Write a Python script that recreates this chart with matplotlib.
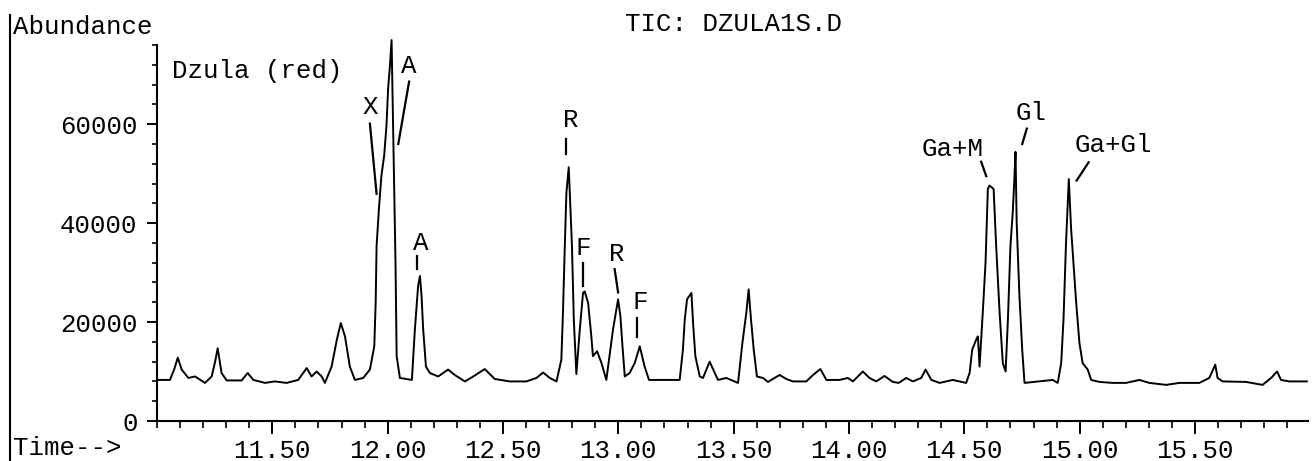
import matplotlib
matplotlib.use("Agg")
import matplotlib.pyplot as plt
from matplotlib.ticker import MultipleLocator, FixedLocator
from matplotlib.lines import Line2D

# ---- data ----
retention_time = [
    11.000, 11.056, 11.075, 11.090, 11.107, 11.136, 11.165, 11.208, 11.237, 11.252,
    11.263, 11.280, 11.302, 11.367, 11.393, 11.418, 11.468, 11.511, 11.562, 11.612,
    11.649, 11.670, 11.692, 11.714, 11.728, 11.757, 11.780, 11.797, 11.815, 11.836,
    11.858, 11.894, 11.923, 11.942, 11.948, 11.952, 11.962, 11.973, 11.985, 11.995,
    12.002, 12.010, 12.017, 12.020, 12.026, 12.034, 12.039, 12.053, 12.105, 12.118,
    12.132, 12.140, 12.147, 12.154, 12.166, 12.183, 12.219, 12.262, 12.291, 12.335,
    12.371, 12.421, 12.464, 12.529, 12.602, 12.645, 12.674, 12.703, 12.732, 12.753,
    12.760, 12.768, 12.775, 12.785, 12.792, 12.799, 12.807, 12.818, 12.833, 12.847,
    12.854, 12.869, 12.883, 12.890, 12.908, 12.927, 12.948, 12.977, 12.999, 13.009,
    13.018, 13.028, 13.049, 13.071, 13.093, 13.114, 13.133, 13.266, 13.280, 13.288,
    13.298, 13.317, 13.324, 13.334, 13.353, 13.367, 13.396, 13.418, 13.432, 13.468,
    13.519, 13.538, 13.555, 13.565, 13.574, 13.587, 13.601, 13.627, 13.649, 13.699,
    13.728, 13.757, 13.815, 13.844, 13.876, 13.902, 13.959, 13.995, 14.017, 14.060,
    14.089, 14.118, 14.154, 14.190, 14.216, 14.248, 14.277, 14.313, 14.332, 14.357,
    14.393, 14.450, 14.508, 14.523, 14.534, 14.552, 14.559, 14.566, 14.580, 14.592,
    14.602, 14.609, 14.627, 14.638, 14.653, 14.667, 14.679, 14.689, 14.700, 14.710,
    14.717, 14.722, 14.727, 14.739, 14.751, 14.761, 14.883, 14.905, 14.920, 14.930,
    14.941, 14.948, 14.953, 14.963, 14.973, 14.985, 14.999, 15.013, 15.035, 15.050,
    15.086, 15.143, 15.201, 15.259, 15.302, 15.375, 15.432, 15.519, 15.562, 15.588,
    15.598, 15.620, 15.721, 15.793, 15.830, 15.856, 15.873, 15.909, 15.985,
]
abundance = [
    8300, 8300, 10500, 12800, 10400, 8700, 9000, 7700, 9000, 12000,
    14700, 9700, 8200, 8200, 9700, 8300, 7700, 8000, 7700, 8300,
    10700, 9000, 10000, 9000, 7700, 11000, 16500, 19800, 17100, 11000,
    8300, 8700, 10400, 15100, 23900, 35400, 42800, 49600, 53700, 59800,
    67200, 71900, 77000, 69200, 54400, 32000, 13100, 8700, 8300, 18500,
    27300, 29300, 25200, 18500, 11000, 9700, 9000, 10400, 9300, 8000,
    9000, 10500, 8500, 8000, 8000, 8700, 9800, 8700, 8000, 12400,
    21900, 35400, 46200, 51300, 43500, 35400, 20500, 9500, 18500, 25900,
    26200, 23900, 17100, 13100, 14100, 11700, 8300, 18500, 24600, 21200,
    15100, 9000, 9700, 11700, 15100, 11000, 8300, 8300, 14400, 20500,
    24600, 25900, 19800, 13100, 9000, 8700, 12000, 9700, 8300, 8700,
    7700, 15800, 21900, 26600, 21200, 14400, 9000, 8700, 7900, 9300,
    8500, 8000, 8000, 9300, 10500, 8300, 8300, 8700, 8000, 10000,
    8700, 8000, 9100, 7900, 7700, 8700, 8000, 8700, 10400, 8300,
    7700, 8300, 7700, 9700, 14400, 16500, 17100, 11000, 21900, 32000,
    46900, 47600, 46900, 35400, 21900, 11700, 10000, 20500, 35400, 42200,
    48900, 54400, 40100, 25200, 14400, 7700, 8300, 7700, 11700, 20500,
    36100, 43500, 48900, 38800, 32000, 23900, 15800, 11700, 10400, 8300,
    7900, 7700, 7700, 8300, 7700, 7300, 7700, 7700, 8700, 11400,
    8700, 8000, 7900, 7300, 8700, 10000, 8300, 8000, 8000,
]
peak_labels = ["X", "A", "A", "R", "F", "R", "F", "Ga+M", "Gl", "Ga+Gl"]
y_ticks = [0, 20000, 40000, 60000]
x_tick_labels = ["11.50", "12.00", "12.50", "13.00", "13.50", "14.00", "14.50", "15.00", "15.50"]

# ---- annotation placement (label position, leader line start/end) ----
label_pos = [(11.923, 63400), (12.090, 71800), (12.142, 35900), (12.792, 60800),
             (12.848, 35000), (12.992, 33700), (13.093, 24100), (14.450, 55000),
             (14.790, 62200), (15.146, 55700)]
leader = [((11.923, 60100), (11.952, 45900)), ((12.093, 68600), (12.046, 56000)),
          ((12.128, 33400), (12.128, 30700)), ((12.775, 57100), (12.775, 54000)),
          ((12.847, 32000), (12.847, 27200)), ((12.984, 30700), (12.999, 26000)),
          ((13.081, 20900), (13.081, 16900)), ((14.573, 52400), (14.595, 49500)),
          ((14.771, 59100), (14.751, 56000)), ((15.039, 52300), (14.987, 48600))]

FONT = "Liberation Mono"
FS = 18.5
W, H = 1314, 461

fig = plt.figure(figsize=(W / 100, H / 100), dpi=100)
ax = fig.add_axes([157 / W, 1 - 421 / H, (1308 - 157) / W, (421 - 45) / H])

ax.plot(retention_time, abundance, color="black", lw=1.4, clip_on=False)

for lab, (lx, ly), ((x0, y0), (x1, y1)) in zip(peak_labels, label_pos, leader):
    ax.text(lx, ly, lab, ha="center", va="center", fontsize=FS, family=FONT)
    ax.plot([x0, x1], [y0, y1], color="black", lw=1.6)

ax.text(11.065, 70700, "Dzula (red)", ha="left", va="center", fontsize=FS, family=FONT)

ax.set_xlim(11.0, 15.99)
ax.set_ylim(0, 76000)
for s in ("top", "right"):
    ax.spines[s].set_visible(False)
for s in ("left", "bottom"):
    ax.spines[s].set_linewidth(1.5)

ax.xaxis.set_major_locator(FixedLocator([float(t) for t in x_tick_labels]))
ax.set_xticklabels(x_tick_labels)
ax.xaxis.set_minor_locator(MultipleLocator(0.1))
ax.set_yticks(y_ticks)
ax.set_yticklabels([str(v) for v in y_ticks])
ax.yaxis.set_minor_locator(MultipleLocator(4000))

ax.tick_params(axis="x", which="major", length=9, width=1.4, pad=4)
ax.tick_params(axis="x", which="minor", length=5, width=1.2)
ax.tick_params(axis="y", which="major", length=7, width=1.4, pad=7)
ax.tick_params(axis="y", which="minor", length=3.5, width=1.2)
for lbl in ax.get_xticklabels() + ax.get_yticklabels():
    lbl.set_fontfamily(FONT)
    lbl.set_fontsize(FS)

fig.text(13 / W, 1 - 26.5 / H, "Abundance", ha="left", va="center", fontsize=FS, family=FONT)
fig.text(13 / W, 1 - 448 / H, "Time-->", ha="left", va="center", fontsize=FS, family=FONT)
fig.text(733.5 / W, 1 - 24 / H, "TIC: DZULA1S.D", ha="center", va="center", fontsize=FS, family=FONT)
fig.add_artist(Line2D([10 / W, 10 / W], [0, 1 - 15 / H], transform=fig.transFigure,
                      color="black", lw=1.5))

fig.savefig("out.png", dpi=100)
